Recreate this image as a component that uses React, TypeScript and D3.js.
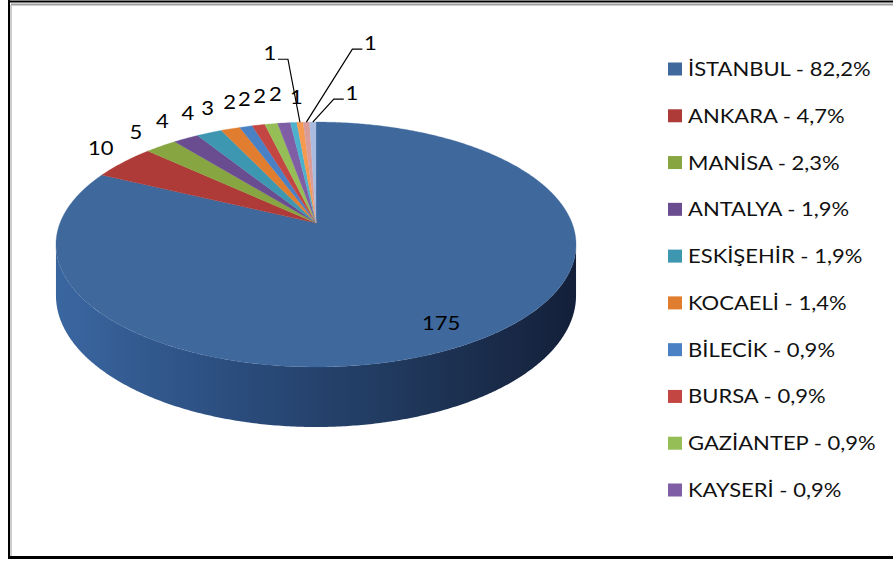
import React from "react";
import * as d3 from "d3";

// ---- data ----
const cities = [
  "İSTANBUL", "ANKARA", "MANİSA", "ANTALYA", "ESKİŞEHİR", "KOCAELİ",
  "BİLECİK", "BURSA", "GAZİANTEP", "KAYSERİ", "S11", "S12", "S13", "S14",
];
const counts = [175, 10, 5, 4, 4, 3, 2, 2, 2, 2, 1, 1, 1, 1];
const legendCount = 10; // Excel legend shows only the first 10 entries
const sliceColors = [
  "#3F689D", "#AE3B37", "#87A641", "#6A4D90", "#3E97B1", "#E07D2E",
  "#4A80C4", "#C44643", "#96BE56", "#7F5EA6", "#4CB1CC", "#F59A4E", "#D99C9A", "#A9BCDF",
];
// manual label nudges (screen px, relative to slice edge) for leader-line labels
const leaderNudges: { [i: number]: [number, number] } = {
  11: [-30, -69],
  12: [64, -79],
  13: [39, -29],
};
const plainNudges: { [i: number]: [number, number] } = {
  1: [4, -4],
  5: [-4, 2],
  10: [9, 4],
};

// ---- geometry ----
const W = 893, H = 563;
const cx = 316, cy = 223, Rx = 256, Ry = 118.7, K = 0.1755, DEPTH = 49.5;

function proj(theta: number, r: number, h: number): [number, number] {
  const u = r * Math.sin(theta), v = r * Math.cos(theta);
  const s = 1 / (1 + K * v);
  return [cx + Rx * u * s, cy - Ry * v * s + DEPTH * s * h];
}

const FONT = "Lato, 'Open Sans', sans-serif";
const SX = 1.1;

export default function App() {
  const total = d3.sum(counts);
  const pie = d3.pie<number>().value((d) => d).sort(null).startAngle(0).endAngle(2 * Math.PI);
  const arcs = pie(counts);
  const color = d3.scaleOrdinal<number, string>().domain(d3.range(counts.length)).range(sliceColors);
  const line = d3.line<[number, number]>();

  const arcPts = (a0: number, a1: number, r: number, h: number) => {
    const n = Math.max(2, Math.ceil(((a1 - a0) * 180) / Math.PI / 0.5));
    return d3.range(n + 1).map((i) => proj(a0 + ((a1 - a0) * i) / n, r, h));
  };

  // visible front wall range
  const tR = Math.acos(-K), tL = 2 * Math.PI - Math.acos(-K);

  const walls = arcs.map((a, i) => {
    const t0 = Math.max(a.startAngle, tR), t1 = Math.min(a.endAngle, tL);
    if (t1 <= t0) return null;
    const top = arcPts(t0, t1, 1, 0);
    const bot = arcPts(t0, t1, 1, 1).reverse();
    return <path key={"w" + i} d={line([...top, ...bot]) + "Z"} fill="url(#sideGrad)" />;
  });

  const tops = arcs.map((a, i) => {
    const pts: [number, number][] = [proj(0, 0, 0), ...arcPts(a.startAngle, a.endAngle, 1, 0)];
    return <path key={"t" + i} d={line(pts) + "Z"} fill={color(i)} stroke={color(i)} strokeWidth={0.3} />;
  });

  const labels = arcs.map((a, i) => {
    const mid = (a.startAngle + a.endAngle) / 2;
    if (i === 0) {
      const [x, y] = proj(mid, 0.82, 0);
      return (
        <text key={"l" + i} transform={`translate(${x - 2},${y + 6}) scale(${SX},1)`} textAnchor="middle" dy="0.35em"
          fontFamily={FONT} fontSize={20} fill="#000">{counts[i]}</text>
      );
    }
    const [ex, ey] = proj(mid, 1, 0);
    if (leaderNudges[i]) {
      const [dx, dy] = leaderNudges[i];
      const lx = ex + dx, ly = ey + dy;
      const left = dx < 0;
      const stubA = left ? lx + 8 : lx - 8;
      const stubB = left ? lx + 18 : lx - 18;
      const sy = ly + 6;
      return (
        <g key={"l" + i}>
          <path d={line([[stubA, sy], [stubB, sy], [ex, ey]]) as string} fill="none" stroke="#000" strokeWidth={1.2} />
          <text transform={`translate(${lx},${ly}) scale(${SX},1)`} textAnchor="middle" dy="0.35em"
            fontFamily={FONT} fontSize={20} fill="#000">{counts[i]}</text>
        </g>
      );
    }
    const dxs = ex - cx, dys = ey - cy;
    const len = Math.hypot(dxs, dys);
    const nud = plainNudges[i] || [0, 0];
    const lx = ex + (dxs / len) * 28 + nud[0], ly = ey + (dys / len) * 28 + nud[1] - 2;
    return (
      <text key={"l" + i} transform={`translate(${lx},${ly}) scale(${SX},1)`} textAnchor="middle" dy="0.35em"
        fontFamily={FONT} fontSize={20} fill="#000">{counts[i]}</text>
    );
  });

  const fmt = (v: number) => (Math.round((v / total) * 1000) / 10).toFixed(1).replace(".", ",") + "%";
  const legendY = d3.scaleLinear().domain([0, legendCount - 1]).range([69, 490]);
  const legend = cities.slice(0, legendCount).map((c, i) => (
    <g key={"lg" + i} transform={`translate(668,${legendY(i)})`}>
      <rect x={0} y={-6.5} width={14} height={13} fill={color(i)} />
      <text transform={`translate(20,0) scale(${SX},1)`} dy="0.35em" fontFamily={FONT} fontSize={20} fill="#111">
        {`${c} - ${fmt(counts[i])}`}
      </text>
    </g>
  ));

  return (
    <svg width={W} height={H} style={{ position: "absolute", left: 0, top: 0, background: "#fff" }}>
      <defs>
        <linearGradient id="sideGrad" gradientUnits="userSpaceOnUse" x1={cx - Rx} x2={cx + Rx} y1={0} y2={0}>
          <stop offset="0%" stopColor="#3A66A0" />
          <stop offset="35%" stopColor="#2A4C7C" />
          <stop offset="70%" stopColor="#1F3659" />
          <stop offset="100%" stopColor="#14203A" />
        </linearGradient>
      </defs>
      <rect x={0} y={0} width={W} height={H} fill="#fff" />
      {/* frame */}
      <line x1={9} y1={0} x2={9} y2={559} stroke="#000" strokeWidth={2} />
      <line x1={11} y1={5} x2={11} y2={557} stroke="#9a9a9a" strokeWidth={1} />
      <line x1={9} y1={1.5} x2={W} y2={1.5} stroke="#000" strokeWidth={2} />
      <line x1={11} y1={4.5} x2={W} y2={4.5} stroke="#a0a0a0" strokeWidth={2} />
      <line x1={8} y1={557.5} x2={W} y2={557.5} stroke="#000" strokeWidth={3} />
      {walls}
      {tops}
      {labels}
      {legend}
    </svg>
  );
}
